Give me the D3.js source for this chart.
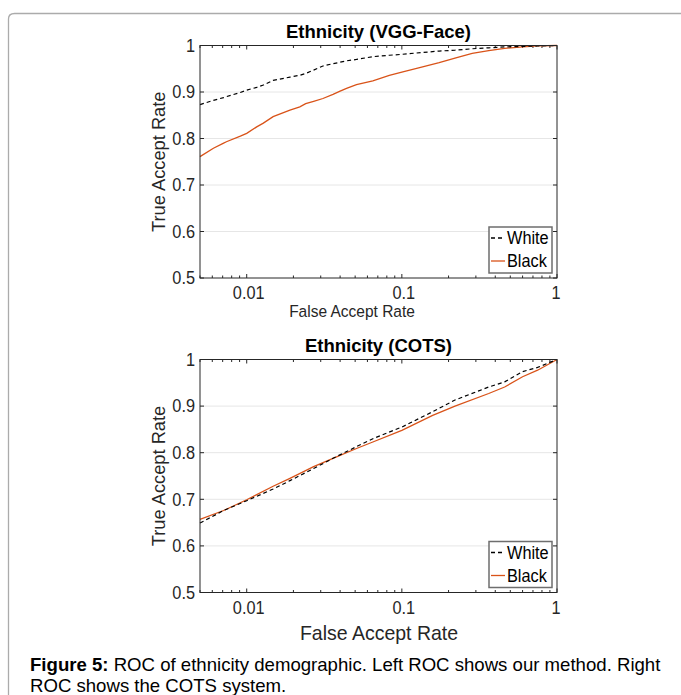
<!DOCTYPE html>
<html><head><meta charset="utf-8">
<script src="https://cdn.jsdelivr.net/npm/d3@7"></script>
<style>
html,body{margin:0;padding:0;background:#fff;}
svg{display:block;font-family:Arial,"Liberation Sans",Helvetica,sans-serif;}
</style></head>
<body>
<svg id="chart" width="681" height="695"></svg>
<script>
// ---- data ----
const xTicks = [0.01, 0.1, 1];
const xTickLabels = ["0.01", "0.1", "1"];
const yTicks = [0.5, 0.6, 0.7, 0.8, 0.9, 1];
const yTickLabels = ["0.5", "0.6", "0.7", "0.8", "0.9", "1"];
const seriesNames = ["White", "Black"];

// Panel 1: Ethnicity (VGG-Face)
const vggFar = [0.005,0.0061,0.0071,0.0074,0.0091,0.01,0.0116,0.0128,0.0148,0.019,0.022,0.024,0.027,0.031,0.036,0.04,0.044,0.051,0.065,0.083,0.1,0.136,0.174,0.22,0.284,0.363,0.46,0.6,0.75,1];
const vggWhite = [0.873,0.882,0.888,0.890,0.899,0.904,0.910,0.915,0.925,0.932,0.936,0.940,0.947,0.956,0.961,0.964,0.967,0.970,0.976,0.979,0.981,0.985,0.988,0.990,0.993,0.995,0.997,0.998,0.999,1];
const vggBlack = [0.761,0.779,0.790,0.793,0.805,0.811,0.825,0.833,0.847,0.861,0.868,0.875,0.880,0.886,0.895,0.902,0.908,0.916,0.924,0.936,0.943,0.954,0.963,0.973,0.983,0.989,0.994,0.997,0.999,1];

// Panel 2: Ethnicity (COTS)
const cotsFar = [0.005,0.0071,0.01,0.0148,0.019,0.027,0.036,0.051,0.065,0.1,0.158,0.22,0.363,0.46,0.6,0.75,1];
const cotsWhite = [0.649,0.676,0.697,0.722,0.740,0.766,0.788,0.813,0.830,0.855,0.888,0.913,0.941,0.952,0.974,0.983,1];
const cotsBlack = [0.657,0.676,0.699,0.728,0.745,0.770,0.788,0.809,0.823,0.848,0.880,0.900,0.927,0.941,0.963,0.977,1];

const panels = [
  {title: "Ethnicity (VGG-Face)", far: vggFar, white: vggWhite, black: vggBlack,
   top: 45.5, bottom: 278, xlabel: {size: 15.5, x: 352, y: 317}, titleY: 38},
  {title: "Ethnicity (COTS)", far: cotsFar, white: cotsWhite, black: cotsBlack,
   top: 359.5, bottom: 592.5, xlabel: {size: 19.5, x: 379, y: 640}, titleY: 352}
];

const svg = d3.select("#chart");
const textColor = "#262626";
const orange = "#D95319";
const SY = 1.07; // slight vertical glyph stretch seen in the reference

// outer frame
svg.append("path")
  .attr("d", "M8.5,700 L8.5,19 Q8.5,13.5 14.5,13.5 L690,13.5")
  .attr("fill", "none").attr("stroke", "#ababab").attr("stroke-width", 1.3);

const left = 200, right = 557;

function stretchedText(g, x, y, txt, size, anchor, fill) {
  return g.append("text")
    .attr("transform", `translate(${x},${y}) scale(1,${SY})`)
    .attr("text-anchor", anchor).attr("font-size", size).attr("fill", fill)
    .text(txt);
}

panels.forEach(p => {
  const x = d3.scaleLog().domain([0.005, 1]).range([left, right]);
  const y = d3.scaleLinear().domain([0.5, 1]).range([p.bottom, p.top]);
  const g = svg.append("g");

  // gridlines
  g.selectAll(".grid").data(yTicks.slice(1, -1)).enter().append("line")
    .attr("x1", left).attr("x2", right)
    .attr("y1", d => y(d)).attr("y2", d => y(d))
    .attr("stroke", "#e6e6e6").attr("stroke-width", 1);

  // minor ticks on x
  const minor = [];
  [0.001, 0.01, 0.1].forEach(dec => { for (let k = 2; k <= 9; k++) { const v = dec * k; if (v >= 0.005 && v < 1) minor.push(v); } });
  [p.bottom, p.top].forEach((yy, i) => {
    const dir = i === 0 ? -1 : 1;
    g.selectAll(null).data(minor).enter().append("line")
      .attr("x1", d => x(d)).attr("x2", d => x(d))
      .attr("y1", yy).attr("y2", yy + dir * 2.5)
      .attr("stroke", textColor).attr("stroke-width", 1);
    g.selectAll(null).data(xTicks).enter().append("line")
      .attr("x1", d => x(d)).attr("x2", d => x(d))
      .attr("y1", yy).attr("y2", yy + dir * 4)
      .attr("stroke", textColor).attr("stroke-width", 1);
  });
  // y ticks both sides
  [left, right].forEach((xx, i) => {
    const dir = i === 0 ? 1 : -1;
    g.selectAll(null).data(yTicks).enter().append("line")
      .attr("x1", xx).attr("x2", xx + dir * 4)
      .attr("y1", d => y(d)).attr("y2", d => y(d))
      .attr("stroke", textColor).attr("stroke-width", 1);
  });

  // lines
  const line = d3.line().x(d => x(d[0])).y(d => y(d[1]));
  g.append("path").datum(p.far.map((f, i) => [f, p.black[i]]))
    .attr("d", line).attr("fill", "none").attr("stroke", orange).attr("stroke-width", 1.3);
  g.append("path").datum(p.far.map((f, i) => [f, p.white[i]]))
    .attr("d", line).attr("fill", "none").attr("stroke", "#000")
    .attr("stroke-width", 1.2).attr("stroke-dasharray", "4,3");

  // box
  g.append("rect").attr("x", left).attr("y", p.top)
    .attr("width", right - left).attr("height", p.bottom - p.top)
    .attr("fill", "none").attr("stroke", textColor).attr("stroke-width", 1);

  // tick labels
  yTicks.forEach((d, i) => stretchedText(g, 195, y(d) + 6.2, yTickLabels[i], 16.3, "end", textColor));
  xTicks.forEach((d, i) => stretchedText(g, x(d) + (i === 2 ? -1 : 2), p.bottom + 21, xTickLabels[i], 16.3, "middle", textColor));

  // title
  g.append("text").attr("x", 378.5).attr("y", p.titleY)
    .attr("text-anchor", "middle").attr("font-size", 18.5).attr("font-weight", "bold")
    .attr("fill", "#000").text(p.title);

  // y label
  g.append("text")
    .attr("transform", `translate(165,${(p.top + p.bottom) / 2}) rotate(-90)`)
    .attr("text-anchor", "middle").attr("font-size", 18.3).attr("fill", textColor)
    .text("True Accept Rate");

  // x label
  stretchedText(g, p.xlabel.x, p.xlabel.y, "False Accept Rate", p.xlabel.size, "middle", textColor);

  // legend
  const lx = 489, ly = p.bottom - 51, lw = 63, lh = 46;
  g.append("rect").attr("x", lx).attr("y", ly).attr("width", lw).attr("height", lh)
    .attr("fill", "#fff").attr("stroke", "#6e6e6e").attr("stroke-width", 1.5);
  const items = [{name: seriesNames[0], color: "#000", dash: "4,3"}, {name: seriesNames[1], color: orange, dash: null}];
  items.forEach((it, i) => {
    const cy = ly + 11 + i * 23;
    g.append("line").attr("x1", lx + 2).attr("x2", lx + 16).attr("y1", cy).attr("y2", cy)
      .attr("stroke", it.color).attr("stroke-width", 1.3)
      .attr("stroke-dasharray", it.dash);
    stretchedText(g, lx + 18, cy + 6.2, it.name, 16.3, "start", "#000");
  });
});

// caption
const cap1 = svg.append("text").attr("x", 30).attr("y", 671).attr("font-size", 18.6).attr("fill", "#000");
cap1.append("tspan").attr("font-weight", "bold").text("Figure 5:");
cap1.append("tspan").text(" ROC of ethnicity demographic. Left ROC shows our method. Right");
svg.append("text").attr("x", 30).attr("y", 692).attr("font-size", 18.6).attr("fill", "#000")
  .text("ROC shows the COTS system.");
</script>
</body></html>
